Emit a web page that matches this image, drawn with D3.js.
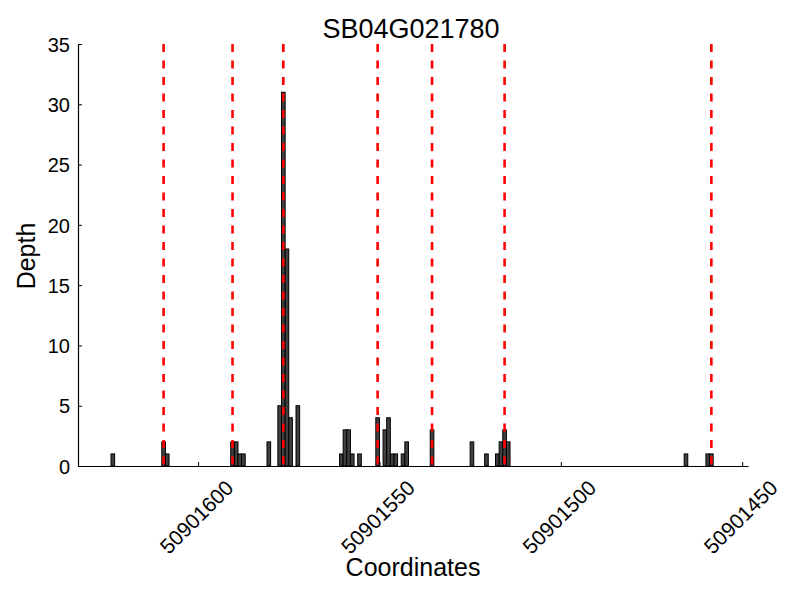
<!DOCTYPE html>
<html>
<head>
<meta charset="utf-8">
<script src="https://cdn.jsdelivr.net/npm/d3@7"></script>
<style>
  html, body { margin: 0; padding: 0; background: #fff; }
  svg { display: block; }
  text { font-family: "Liberation Sans", Arial, Helvetica, sans-serif; fill: #000; }
</style>
</head>
<body>
<svg id="chart" width="800" height="600"></svg>
<script>
// ---- data ----
const title = "SB04G021780";
const xLabel = "Coordinates";
const yLabel = "Depth";
const positions = [
  50901623, 50901609, 50901608, 50901590, 50901589, 50901588, 50901587,
  50901580, 50901577, 50901576, 50901575, 50901574, 50901572,
  50901560, 50901559, 50901558, 50901557, 50901555,
  50901550, 50901548, 50901547, 50901546, 50901545, 50901543, 50901542,
  50901535, 50901524, 50901520, 50901517, 50901516, 50901515, 50901514,
  50901465, 50901459, 50901458
];
const depths = [
  1, 2, 1, 2, 2, 1, 1,
  2, 5, 31, 18, 4, 5,
  1, 3, 3, 1, 1,
  4, 3, 4, 1, 1, 1, 2,
  3, 2, 1, 1, 2, 3, 2,
  1, 1, 1
];
const markers = [50901609.5, 50901590.5, 50901576.5, 50901550.5, 50901535.5, 50901515.5, 50901458.5];
const xTicks = [50901600, 50901550, 50901500, 50901450];
const yTicks = [0, 5, 10, 15, 20, 25, 30, 35];
const xDomain = [50901633.1, 50901448.4];
const yDomain = [0, 35];

// ---- layout ----
const mLeft = 78, mRight = 748, mTop = 44, mBottom = 466;
const svg = d3.select("#chart");
const x = d3.scaleLinear().domain(xDomain).range([mLeft, mRight]);
const y = d3.scaleLinear().domain(yDomain).range([mBottom, mTop]);

const bars = positions.map((p, i) => ({ p, d: depths[i] }));

// bars: each spans [p, p+1]
svg.append("g").selectAll("rect").data(bars).join("rect")
  .attr("x", d => x(d.p + 1))
  .attr("width", d => x(d.p) - x(d.p + 1))
  .attr("y", d => y(d.d))
  .attr("height", d => y(0) - y(d.d))
  .attr("fill", "#404040")
  .attr("stroke", "#000")
  .attr("stroke-width", 1);

// red dashed markers
svg.append("g").selectAll("line").data(markers).join("line")
  .attr("x1", d => x(d)).attr("x2", d => x(d))
  .attr("y1", y(35)).attr("y2", y(0))
  .attr("stroke", "#ff0000")
  .attr("stroke-width", 2.6)
  .attr("stroke-dasharray", "8,8.5");

// axes
const yAxis = d3.axisLeft(y).tickValues(yTicks).tickSizeInner(-4).tickSizeOuter(0).tickPadding(8);
const gy = svg.append("g").attr("transform", `translate(${mLeft},0)`).call(yAxis);
gy.select(".domain").attr("stroke", "#000").attr("stroke-width", 1.2);
gy.selectAll(".tick line").attr("stroke", "#000");
gy.selectAll(".tick text").attr("font-size", 20).attr("font-family", "Liberation Sans, Arial, sans-serif")
  .attr("x", -8).attr("dy", "0.36em");

const xAxis = d3.axisBottom(x).tickValues(xTicks).tickFormat(d3.format("d")).tickSizeInner(-4).tickSizeOuter(0);
const gx = svg.append("g").attr("transform", `translate(0,${mBottom})`).call(xAxis);
gx.select(".domain").attr("stroke", "#000").attr("stroke-width", 1.2);
gx.selectAll(".tick line").attr("stroke", "#000");
gx.selectAll(".tick text")
  .attr("font-size", 21).attr("font-family", "Liberation Sans, Arial, sans-serif")
  .attr("text-anchor", "middle")
  .attr("y", 0).attr("dy", "0.35em")
  .attr("transform", "translate(-2,51) rotate(-45)");

// title and labels
svg.append("text").attr("x", 411).attr("y", 38).attr("text-anchor", "middle")
  .attr("font-size", 27).text(title);
svg.append("text").attr("x", 413).attr("y", 576).attr("text-anchor", "middle")
  .attr("font-size", 25).text(xLabel);
svg.append("text").attr("transform", "translate(35,256) rotate(-90)").attr("text-anchor", "middle")
  .attr("font-size", 25).text(yLabel);
</script>
</body>
</html>
